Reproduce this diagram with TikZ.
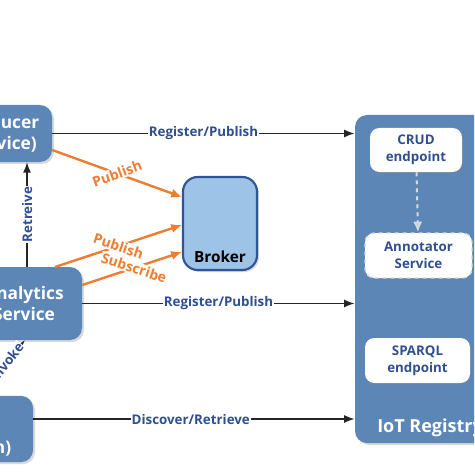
\documentclass[tikz,border=0pt]{standalone}
\usepackage{fontspec}
\setmainfont{Open Sans}
\usetikzlibrary{arrows.meta,shadows,calc}

\definecolor{svcblue}{HTML}{5B86B6}
\definecolor{txtblue}{HTML}{2F4F8F}
\definecolor{brokerfill}{HTML}{9DC3E6}
\definecolor{brokerline}{HTML}{2E5597}
\definecolor{puborange}{HTML}{ED7D31}
\definecolor{dashgrey}{HTML}{D3DAE4}

\tikzset{
  svc/.style={fill=svcblue, rounded corners=9pt, text=white, align=center,
    font=\bfseries\fontsize{13}{16}\selectfont,
    drop shadow={opacity=0.3, shadow xshift=1.5pt, shadow yshift=-1.5pt}},
  inbox/.style={fill=white, rounded corners=7pt, text=txtblue, align=center,
    font=\bfseries\fontsize{10}{12.5}\selectfont,
    drop shadow={opacity=0.35, shadow xshift=1pt, shadow yshift=-1pt}},
  lbl/.style={fill=white, text=txtblue, inner sep=0.75pt,
    font=\bfseries\fontsize{10}{12}\selectfont},
  publbl/.style={lbl, text=puborange, font=\bfseries\fontsize{10.5}{12}\selectfont},
  flow/.style={draw=black!85, line width=1.2pt, -{Latex[length=8pt,width=6pt]}},
  pubflow/.style={draw=puborange, line width=1.8pt, -{Latex[length=8pt,width=7pt]}},
}

\begin{document}
\begin{tikzpicture}[x=0.75pt,y=0.75pt,yscale=-1,xscale=1]
\useasboundingbox (0,0) rectangle (474,474);
\clip (0,0) rectangle (474,474);

% services on the left
\node (prod) at (0,133.5) [svc, minimum width=78pt, minimum height=42.75pt] {Producer\\(Service)};
\node (ana) at (24,303.5) [svc, minimum width=87pt, minimum height=54.75pt] {Analytics\\Service};
\node (cli) at (-44,429) [svc, minimum width=115.5pt, minimum height=46.5pt] {Client\\[14pt](Application)};

% broker
\node (broker) at (220,223.5) [fill=brokerfill, draw=brokerline, line width=1.6pt, rounded corners=11pt,
  minimum width=55.5pt, minimum height=69.75pt,
  drop shadow={opacity=0.3, shadow xshift=1.5pt, shadow yshift=-1.5pt}] {};
\node (brokertxt) at (220,257) [font=\bfseries\fontsize{11.5}{13}\selectfont] {Broker};

% registry and its parts
\node (reg) at (427.5,279) [fill=svcblue, rounded corners=9pt, minimum width=108.75pt, minimum height=246pt,
  drop shadow={opacity=0.3, shadow xshift=1.5pt, shadow yshift=-1.5pt}] {};
\node (regtxt) at (377,428) [anchor=west, text=white, inner sep=0pt, font=\bfseries\fontsize{13.5}{16}\selectfont] {IoT Registry};
\node (crud) at (416,150) [inbox, minimum width=69pt, minimum height=33pt] {CRUD\\endpoint};
\node (annot) at (418.5,255.5) [inbox, draw=dashgrey, dashed, line width=1pt, minimum width=80.25pt, minimum height=33.75pt] {Annotator\\Service};
\node (sparql) at (417.5,360.5) [inbox, minimum width=78.75pt, minimum height=33.75pt] {SPARQL\\endpoint};
\draw [dashgrey, line width=1.5pt, dashed, -{Latex[length=8pt,width=7pt,fill=black!25]}] (crud) -- (annot);

% registry links
\coordinate (discfrom) at ($(cli.east)+(0,-10)$);
\draw [flow] (prod.east) -- (prod.east -| reg.west) node [midway, lbl] {Register/Publish};
\draw [flow] (ana.east) -- (ana.east -| reg.west) node [midway, lbl] {Register/Publish};
\draw [flow] (discfrom) -- (discfrom -| reg.west) node [pos=0.49, lbl] {Discover/Retrieve};

% service links
\coordinate (invfrom) at ($(cli.north)+(23,0)$);
\draw [flow] (27,267) -- (27,162) node [midway, lbl, rotate=90] {Retreive};
\draw [flow] (invfrom) -- (25,340) node [pos=0.6, lbl, rotate=52] {Invoke};

% broker links
\draw [pubflow] ($(prod.east)+(0,16.5)$) -- ($(broker.west)+(0,-26.5)$) node [midway, publbl, sloped] {Publish};
\draw [pubflow] (55,267) -- ($(broker.west)+(0,1.5)$) node [midway, publbl, sloped] {Publish};
\draw [pubflow] ($(ana.east)+(0,-18.5)$) -- ($(broker.west)+(0,28.5)$) node [pos=0.52, publbl, sloped] {Subscribe};
\end{tikzpicture}
\end{document}
